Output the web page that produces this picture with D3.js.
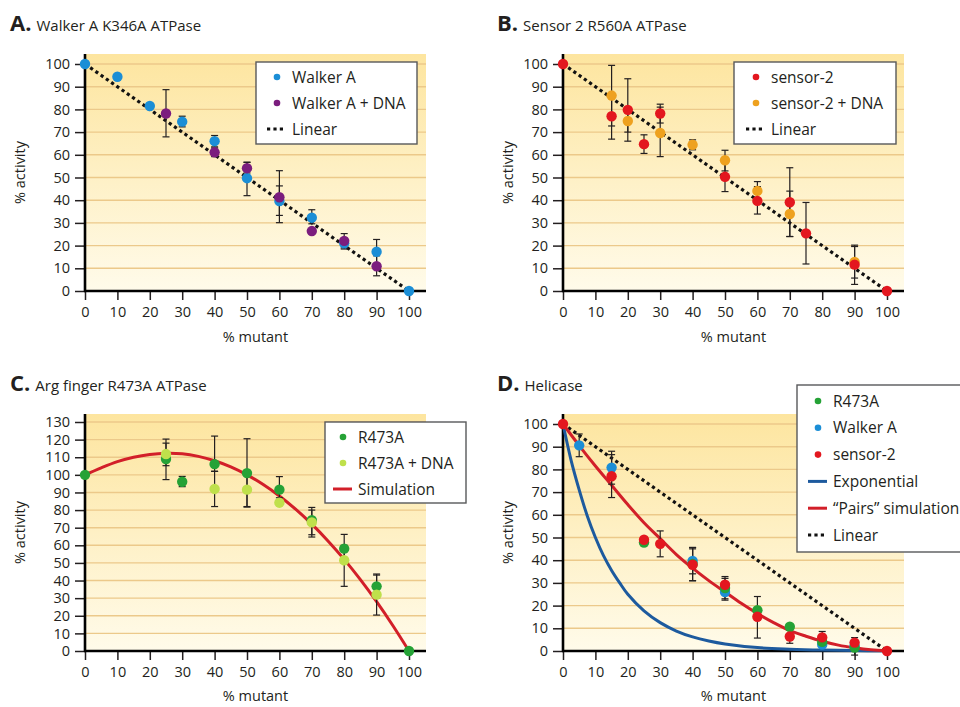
<!DOCTYPE html>
<html>
<head>
<meta charset="utf-8">
<script src="https://cdn.jsdelivr.net/npm/d3@7"></script>
<style>
  body { margin: 0; background: #fff; }
  text { font-family: "Open Sans", sans-serif; fill: #231f20; }
</style>
</head>
<body>
<svg id="chart" width="960" height="707"></svg>
<script>
// ---- data: [x (% mutant), y (% activity), errLow, errHigh] ----
const xTicks = [0, 10, 20, 30, 40, 50, 60, 70, 80, 90, 100];
const yTicks100 = [0, 10, 20, 30, 40, 50, 60, 70, 80, 90, 100];
const yTicks130 = [0, 10, 20, 30, 40, 50, 60, 70, 80, 90, 100, 110, 120, 130];

const linearLine = [[0, 100], [100, 0]];

// A. Walker A K346A ATPase
const walkerA = [[0, 100], [10, 94.4], [20, 81.5], [30, 74.6, 72.3, 77], [40, 66, 63.5, 68.5],
  [50, 49.7, 42, 56.7], [60, 39.6, 30.1, 53], [70, 32.3, 29.6, 35.8], [80, 21, 19, 23],
  [90, 17.3, 12, 22.7], [100, 0]];
const walkerADna = [[25, 78.2, 67.9, 88.7], [40, 61.1, 59.2, 63], [50, 54.1, 52, 56.7],
  [60, 41.3, 33.3, 46.3], [70, 26.4], [80, 22.1, 18.5, 25.3], [90, 10.9, 6.7, 15.5]];

// B. Sensor 2 R560A ATPase
const sensor2 = [[0, 100], [15, 77, 66.9, 87], [20, 79.8, 66, 93.5], [25, 64.7, 60.6, 68.8],
  [30, 78.2, 74, 82.3], [50, 50.3, 43.8, 57], [60, 39.7, 33.9, 46], [70, 39.1, 24, 54.3],
  [75, 25.4, 11.9, 39], [90, 11.6, 2.9, 20.2], [100, 0]];
const sensor2Dna = [[15, 86.1, 72.7, 99.4], [20, 74.9, 70, 80], [30, 69.6, 59.2, 81],
  [40, 64.4, 62.2, 66.6], [50, 57.6, 52.9, 62], [60, 44.1, 40, 48.2], [70, 33.9, 24, 44],
  [90, 12.8, 5.7, 19.6]];

// C. Arg finger R473A ATPase
const r473a = [[0, 100], [25, 109, 97.3, 120.3], [30, 96.1, 93.3, 99.1], [40, 106.1, 102, 122],
  [50, 101, 81.7, 120.5], [60, 91.6, 87, 99], [70, 74.2, 64.7, 81.5], [80, 58.1, 50, 66.2],
  [90, 36.7, 30, 43.7], [100, 0]];
const r473aDna = [[25, 111.8, 105.2, 118], [40, 92, 82, 102], [50, 91.6, 82, 101], [60, 84.2],
  [70, 73, 66, 80], [80, 51.5, 36.7, 60], [90, 32, 20.4, 43.1]];
const simulationC = [[0, 100], [5, 104], [10, 107.5], [15, 110], [20, 111.6], [25, 112.3],
  [30, 112], [35, 110.5], [40, 108], [45, 104.5], [50, 100], [55, 94.5], [60, 88], [65, 80.5],
  [70, 72], [75, 62.5], [80, 52], [85, 40.5], [90, 28], [95, 14.5], [100, 0]];

// D. Helicase
const helR473a = [[25, 47.8], [40, 38.3, 31, 45], [50, 27.7, 23, 32], [60, 18], [70, 10.7],
  [80, 4], [90, 1.5]];
const helWalkerA = [[5, 90.6, 85.6, 95.6], [15, 80.8, 73.5, 88], [40, 39.7, 34, 45.6],
  [50, 26], [80, 2.8], [90, 2.3]];
const helSensor2 = [[0, 100], [15, 77, 67.6, 86.5], [25, 49], [30, 47.2, 41.5, 52.9],
  [40, 38, 30.9, 45.6], [50, 29.2, 22.4, 32.8], [60, 15.1, 5.7, 24], [70, 6.4, 3.4, 10],
  [80, 6, 2, 8.6], [90, 3.7, -1.8, 5.9], [100, 0]];
const exponential = [[0, 100], [2.5, 84], [5, 71], [7.5, 59.5], [10, 50], [12.5, 42],
  [15, 35.5], [17.5, 30], [20, 25], [25, 17.7], [30, 12.5], [35, 8.8], [40, 6.2], [45, 4.4],
  [50, 3.1], [60, 1.5], [70, 0.8], [80, 0.4], [90, 0.2], [100, 0.1]];
const pairsSim = [[0, 100], [5, 90.5], [10, 81.5], [15, 73], [20, 64.5], [25, 56.5],
  [30, 49.5], [35, 42.5], [40, 36.5], [45, 31], [50, 26], [55, 21], [60, 16.5], [65, 12.5],
  [70, 9], [75, 6.5], [80, 4.3], [85, 2.6], [90, 1.4], [95, 0.5], [100, 0]];

// colours
const cBlue = "#1b8ed6", cPurple = "#7b1d7e", cRed = "#e3171f", cOrange = "#eea11f",
  cGreen = "#25a236", cLime = "#bfe04b", cExp = "#1d5a9e", cSim = "#d21f29";

const svg = d3.select("#chart");

// background gradient
const grad = svg.append("defs").append("linearGradient")
  .attr("id", "bg").attr("x1", 0).attr("y1", 0).attr("x2", 0).attr("y2", 1);
grad.append("stop").attr("offset", "0%").attr("stop-color", "#fde59f");
grad.append("stop").attr("offset", "100%").attr("stop-color", "#fffbea");

function drawPanel(p) {
  const g = svg.append("g");
  const x = d3.scaleLinear().domain([0, 100]).range([p.left, p.right]);
  const y = d3.scaleLinear().domain([0, p.yMax]).range([p.bottom, p.top]);

  // Plot background
  g.append("rect")
    .attr("x", p.left)
    .attr("y", p.bgTop)
    .attr("width", p.bgRight - p.left)
    .attr("height", p.bottom - p.bgTop)
    .attr("fill", "url(#bg)");

  // Horizontal grid lines
  g.selectAll(".grid")
    .data(p.yTicks.filter((d) => d > 0))
    .join("line")
    .attr("x1", p.left)
    .attr("x2", p.bgRight)
    .attr("y1", (d) => y(d))
    .attr("y2", (d) => y(d))
    .attr("stroke", "#ecc98a")
    .attr("stroke-width", 1.4);

  // Axes
  const yAxis = g.append("g")
    .attr("transform", `translate(${p.left},0)`)
    .call(d3.axisLeft(y).tickValues(p.yTicks).tickSize(10).tickPadding(5));
  const xAxis = g.append("g")
    .attr("transform", `translate(0,${p.bottom})`)
    .call(d3.axisBottom(x).tickValues(xTicks).tickSize(9).tickPadding(7));
  [yAxis, xAxis].forEach((a) => {
    a.select(".domain").remove();
    a.attr("font-family", null).attr("font-size", null);
    a.selectAll("line").attr("stroke", "#231f20").attr("stroke-width", 1.5);
    a.selectAll("text").attr("font-size", 14.5).attr("fill", "#231f20");
  });
  g.append("line")
    .attr("x1", p.left).attr("x2", p.left)
    .attr("y1", p.bgTop).attr("y2", p.bottom + 1)
    .attr("stroke", "#000").attr("stroke-width", 2.6);
  g.append("line")
    .attr("x1", p.left - 1).attr("x2", p.bgRight)
    .attr("y1", p.bottom).attr("y2", p.bottom)
    .attr("stroke", "#000").attr("stroke-width", 2.6);

  // Axis labels
  g.append("text")
    .attr("x", (p.left + p.bgRight) / 2)
    .attr("y", p.xLabelY)
    .attr("text-anchor", "middle")
    .attr("font-size", 14.5)
    .text("% mutant");
  g.append("text")
    .attr("transform", `translate(${p.yLabelX},${(p.bgTop + p.bottom) / 2}) rotate(-90)`)
    .attr("text-anchor", "middle")
    .attr("font-size", 14.5)
    .text("% activity");

  // Title
  const t = g.append("text").attr("x", p.titleX).attr("y", p.titleY);
  t.append("tspan").attr("font-size", 22).attr("font-weight", "bold").text(p.letter);
  t.append("tspan").attr("font-size", 15).attr("dx", 5).text(p.title);

  // Curves
  const line = d3.line().x((d) => x(d[0])).y((d) => y(d[1]));
  p.curves.forEach((c) => {
    g.append("path")
      .datum(c.data)
      .attr("fill", "none")
      .attr("stroke", c.color)
      .attr("stroke-width", c.dashed ? 3.2 : 3)
      .attr("stroke-dasharray", c.dashed ? "3.2,3.2" : null)
      .attr("d", line.curve(c.dashed ? d3.curveLinear : d3.curveCatmullRom)(c.data));
  });

  // Error bars
  p.series.forEach((s) => {
    const withErr = s.data.filter((d) => d.length > 2);
    const eb = g.append("g").attr("stroke", "#231f20").attr("stroke-width", 1.2);
    eb.selectAll(".v").data(withErr).join("line")
      .attr("x1", (d) => x(d[0])).attr("x2", (d) => x(d[0]))
      .attr("y1", (d) => y(d[2])).attr("y2", (d) => y(d[3]));
    eb.selectAll(".lo").data(withErr).join("line")
      .attr("x1", (d) => x(d[0]) - 3.5).attr("x2", (d) => x(d[0]) + 3.5)
      .attr("y1", (d) => y(d[2])).attr("y2", (d) => y(d[2]));
    eb.selectAll(".hi").data(withErr).join("line")
      .attr("x1", (d) => x(d[0]) - 3.5).attr("x2", (d) => x(d[0]) + 3.5)
      .attr("y1", (d) => y(d[3])).attr("y2", (d) => y(d[3]));
  });

  // Points
  p.series.forEach((s) => {
    g.append("g").selectAll("circle").data(s.data).join("circle")
      .attr("cx", (d) => x(d[0]))
      .attr("cy", (d) => y(d[1]))
      .attr("r", 5.2)
      .attr("fill", s.color);
  });

  // Legend
  const L = p.legend;
  g.append("rect")
    .attr("x", L.x).attr("y", L.y)
    .attr("width", L.w).attr("height", L.h)
    .attr("fill", "#fff")
    .attr("stroke", "#58595b")
    .attr("stroke-width", 1.4);
  L.items.forEach((it, i) => {
    const cy = L.firstY + i * L.step;
    if (it.kind === "dot") {
      g.append("circle").attr("cx", L.markX).attr("cy", cy).attr("r", 3.3).attr("fill", it.color);
    } else {
      g.append("line")
        .attr("x1", L.markX - 10).attr("x2", L.markX + 9)
        .attr("y1", cy).attr("y2", cy)
        .attr("stroke", it.color)
        .attr("stroke-width", 3)
        .attr("stroke-dasharray", it.kind === "dash" ? "3.2,3.2" : null);
    }
    g.append("text")
      .attr("x", L.textX).attr("y", cy + 5.5)
      .attr("font-size", 15.5)
      .text(it.label);
  });
}

drawPanel({
  left: 85, right: 409, bottom: 291, top: 64, bgTop: 54, bgRight: 426, yMax: 100,
  yTicks: yTicks100, xLabelY: 342, yLabelX: 25, titleX: 10, titleY: 31,
  letter: "A.", title: "Walker A K346A ATPase",
  curves: [{ data: linearLine, color: "#111", dashed: true }],
  series: [{ data: walkerA, color: cBlue }, { data: walkerADna, color: cPurple }],
  legend: { x: 256, y: 62, w: 161, h: 82, firstY: 77, step: 26, markX: 277, textX: 292,
    items: [{ kind: "dot", color: cBlue, label: "Walker A" },
            { kind: "dot", color: cPurple, label: "Walker A + DNA" },
            { kind: "dash", color: "#111", label: "Linear" }] }
});

drawPanel({
  left: 563, right: 887, bottom: 291, top: 64, bgTop: 54, bgRight: 904, yMax: 100,
  yTicks: yTicks100, xLabelY: 342, yLabelX: 513, titleX: 497, titleY: 31,
  letter: "B.", title: "Sensor 2 R560A ATPase",
  curves: [{ data: linearLine, color: "#111", dashed: true }],
  series: [{ data: sensor2Dna, color: cOrange }, { data: sensor2, color: cRed }],
  legend: { x: 734, y: 62, w: 162, h: 82, firstY: 77, step: 26, markX: 756, textX: 771,
    items: [{ kind: "dot", color: cRed, label: "sensor-2" },
            { kind: "dot", color: cOrange, label: "sensor-2 + DNA" },
            { kind: "dash", color: "#111", label: "Linear" }] }
});

drawPanel({
  left: 85, right: 409, bottom: 651, top: 422, bgTop: 414, bgRight: 426, yMax: 130,
  yTicks: yTicks130, xLabelY: 701, yLabelX: 25, titleX: 10, titleY: 391,
  letter: "C.", title: "Arg finger R473A ATPase",
  curves: [{ data: simulationC, color: cSim }],
  series: [{ data: r473a, color: cGreen }, { data: r473aDna, color: cLime }],
  legend: { x: 325, y: 422, w: 141, h: 81, firstY: 437, step: 26, markX: 343, textX: 358,
    items: [{ kind: "dot", color: cGreen, label: "R473A" },
            { kind: "dot", color: cLime, label: "R473A + DNA" },
            { kind: "solid", color: cSim, label: "Simulation" }] }
});

drawPanel({
  left: 563, right: 887, bottom: 651, top: 424, bgTop: 414, bgRight: 904, yMax: 100,
  yTicks: yTicks100, xLabelY: 701, yLabelX: 513, titleX: 497, titleY: 391,
  letter: "D.", title: "Helicase",
  curves: [{ data: linearLine, color: "#111", dashed: true },
           { data: exponential, color: cExp },
           { data: pairsSim, color: cSim }],
  series: [{ data: helWalkerA, color: cBlue }, { data: helR473a, color: cGreen },
           { data: helSensor2, color: cRed }],
  legend: { x: 797, y: 385, w: 180, h: 167, firstY: 401, step: 26.8, markX: 818, textX: 833,
    items: [{ kind: "dot", color: cGreen, label: "R473A" },
            { kind: "dot", color: cBlue, label: "Walker A" },
            { kind: "dot", color: cRed, label: "sensor-2" },
            { kind: "solid", color: cExp, label: "Exponential" },
            { kind: "solid", color: cSim, label: "\u201cPairs\u201d simulation" },
            { kind: "dash", color: "#111", label: "Linear" }] }
});
</script>
</body>
</html>
